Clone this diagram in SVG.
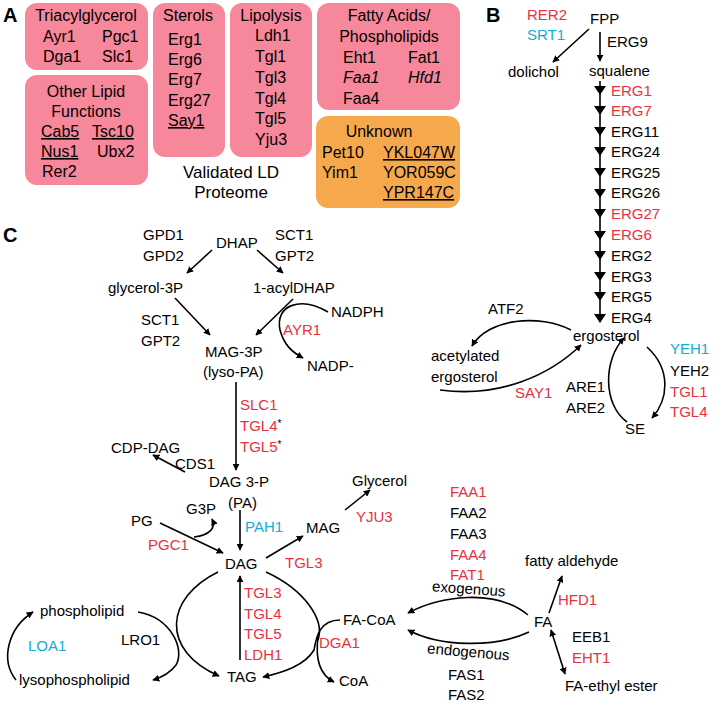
<svg xmlns="http://www.w3.org/2000/svg" width="715" height="703" viewBox="0 0 715 703">
<defs>
<marker id="ah" viewBox="0 0 10 10" refX="9" refY="5" markerWidth="7" markerHeight="7" orient="auto-start-reverse" markerUnits="userSpaceOnUse"><path d="M0,0 L10,5 L0,10 z" fill="#000"/></marker>
<style>
text{font-family:"Liberation Sans",Arial,sans-serif;font-size:15px;fill:#000}
#panelA text{font-size:16px}
.L{font-size:20px;font-weight:bold}
.r{fill:#E8313E}.c{fill:#14ACD6}
.m{text-anchor:middle}
.pk{fill:#F7879A}.or{fill:#F6A94C}
.ln{stroke:#000;stroke-width:1.6;fill:none}
.a{marker-end:url(#ah)}
</style>
</defs>
<text class="L" x="3" y="22">A</text>
<text class="L" x="486" y="22">B</text>
<text class="L" x="3" y="242">C</text>
<g id="panelA">
<g id="tag"><rect class="pk" x="25" y="3" width="123" height="67" rx="12"/>
<text class="m" x="86" y="21">Triacylglycerol</text><text x="43" y="42">Ayr1</text><text x="102" y="42">Pgc1</text><text x="43" y="62">Dga1</text><text x="102" y="62">Slc1</text></g>
<g id="other"><rect class="pk" x="25" y="75" width="123" height="110" rx="12"/>
<text class="m" x="86" y="97">Other Lipid</text><text class="m" x="86" y="117">Functions</text>
<text x="41" y="137" text-decoration="underline">Cab5</text><text x="92" y="137" text-decoration="underline">Tsc10</text>
<text x="41" y="157" text-decoration="underline">Nus1</text><text x="97" y="157">Ubx2</text><text x="42" y="177">Rer2</text></g>
<g id="sterols"><rect class="pk" x="153" y="3" width="72" height="154" rx="12"/>
<text class="m" x="188" y="21">Sterols</text><text x="168" y="45">Erg1</text><text x="168" y="65">Erg6</text><text x="168" y="85">Erg7</text><text x="168" y="106">Erg27</text><text x="168" y="126" text-decoration="underline">Say1</text></g>
<g id="lipolysis"><rect class="pk" x="230" y="3" width="82" height="154" rx="12"/>
<text class="m" x="271" y="21">Lipolysis</text><text x="255" y="41">Ldh1</text><text x="255" y="62">Tgl1</text><text x="255" y="83">Tgl3</text><text x="255" y="104">Tgl4</text><text x="255" y="124">Tgl5</text><text x="255" y="145">Yju3</text></g>
<g id="fa"><rect class="pk" x="317" y="3" width="143" height="107" rx="12"/>
<text class="m" x="389" y="21">Fatty Acids/</text><text class="m" x="389" y="42">Phospholipids</text>
<text x="343" y="63">Eht1</text><text x="408" y="63">Fat1</text><text x="343" y="83" font-style="italic">Faa1</text><text x="408" y="83" font-style="italic">Hfd1</text><text x="343" y="104">Faa4</text></g>
<g id="unknown"><rect class="or" x="316" y="116" width="144" height="92" rx="12"/>
<text class="m" x="379" y="137">Unknown</text><text x="322" y="158">Pet10</text><text x="383" y="158" text-decoration="underline">YKL047W</text>
<text x="322" y="178">Yim1</text><text x="383" y="178">YOR059C</text><text x="383" y="198" text-decoration="underline">YPR147C</text></g>
<text class="m" x="231" y="178" style="font-size:17px">Validated LD</text><text class="m" x="231" y="198" style="font-size:17px">Proteome</text>
</g>
<g id="panelB">
<text class="r" x="527" y="20">RER2</text><text class="c" x="527" y="40">SRT1</text>
<text x="590" y="24">FPP</text><text x="607" y="47">ERG9</text>
<text x="508" y="77">dolichol</text><text x="589" y="76">squalene</text>
<text x="611" y="96" class="r">ERG1</text><text x="611" y="116" class="r">ERG7</text><text x="611" y="137">ERG11</text><text x="611" y="157">ERG24</text><text x="611" y="178">ERG25</text><text x="611" y="198">ERG26</text><text x="611" y="219" class="r">ERG27</text><text x="611" y="240" class="r">ERG6</text><text x="611" y="261">ERG2</text><text x="611" y="282">ERG3</text><text x="611" y="302">ERG5</text><text x="611" y="323">ERG4</text>
<text x="573" y="341">ergosterol</text>
<text x="488" y="314">ATF2</text><text x="431" y="361">acetylated</text><text x="431" y="382">ergosterol</text>
<text class="r" x="515" y="398">SAY1</text>
<text x="566" y="392">ARE1</text><text x="566" y="413">ARE2</text><text x="625" y="434">SE</text>
<text class="c" x="670" y="354">YEH1</text><text x="670" y="376">YEH2</text><text class="r" x="670" y="397">TGL1</text><text class="r" x="670" y="417">TGL4</text>
</g>
<g id="panelC">
<text x="143" y="240">GPD1</text><text x="143" y="261">GPD2</text><text x="216" y="248">DHAP</text>
<text x="275" y="240">SCT1</text><text x="275" y="261">GPT2</text>
<text x="108" y="293">glycerol-3P</text><text x="253" y="293">1-acylDHAP</text>
<text x="141" y="325">SCT1</text><text x="141" y="346">GPT2</text>
<text x="331" y="317">NADPH</text><text class="r" x="283" y="335">AYR1</text><text x="307" y="371">NADP-</text>
<text x="205" y="357">MAG-3P</text><text x="203" y="377">(lyso-PA)</text>
<text class="r" x="240" y="410">SLC1</text><text class="r" x="240" y="431">TGL4<tspan style="fill:#000;font-size:10px" dy="-4">*</tspan></text><text class="r" x="240" y="452">TGL5<tspan style="fill:#000;font-size:10px" dy="-4">*</tspan></text>
<text x="111" y="453">CDP-DAG</text><text x="175" y="469">CDS1</text>
<text x="209" y="487">DAG 3-P</text><text x="228" y="508">(PA)</text>
<text x="352" y="486">Glycerol</text><text x="306" y="533">MAG</text><text class="r" x="356" y="522">YJU3</text>
<text class="c" x="245" y="532">PAH1</text>
<text x="131" y="526">PG</text><text x="186" y="514">G3P</text><text class="r" x="148" y="550">PGC1</text>
<text x="225" y="569">DAG</text><text class="r" x="285" y="568">TGL3</text>
<text class="r" x="244" y="598">TGL3</text><text class="r" x="244" y="619">TGL4</text><text class="r" x="244" y="639">TGL5</text><text class="r" x="244" y="660">LDH1</text>
<text x="227" y="682">TAG</text><text x="121" y="645">LRO1</text>
<text x="40" y="616">phospholipid</text><text x="19" y="685">lysophospholipid</text><text class="c" x="28" y="651">LOA1</text>
<text x="343" y="625">FA-CoA</text><text class="r" x="319" y="648">DGA1</text><text x="339" y="686">CoA</text>
<text class="r" x="450" y="497">FAA1</text><text x="450" y="518">FAA2</text><text x="450" y="539">FAA3</text><text class="r" x="450" y="560">FAA4</text><text class="r" x="450" y="580">FAT1</text>
<text x="432" y="594" transform="rotate(4 470 590)">exogenous</text><text x="427" y="657" transform="rotate(5 470 653)">endogenous</text>
<text x="448" y="680">FAS1</text><text x="448" y="700">FAS2</text>
<text x="534" y="627">FA</text><text x="525" y="566">fatty aldehyde</text><text class="r" x="558" y="605">HFD1</text>
<text x="572" y="642">EEB1</text><text class="r" x="572" y="663">EHT1</text><text x="565" y="691">FA-ethyl ester</text>
</g>
<g id="connectors">
<path class="ln a" d="M589,29 L553,62"/>
<path class="ln a" d="M600,32 L600,61"/>
<path class="ln" d="M600,81 L600,322"/>
<g fill="#000"><path d="M594,86 h12 l-6,9z"/><path d="M594,106 h12 l-6,9z"/><path d="M594,127 h12 l-6,9z"/><path d="M594,147 h12 l-6,9z"/><path d="M594,168 h12 l-6,9z"/><path d="M594,189 h12 l-6,9z"/><path d="M594,209 h12 l-6,9z"/><path d="M594,231 h12 l-6,9z"/><path d="M594,251 h12 l-6,9z"/><path d="M594,272 h12 l-6,9z"/><path d="M594,292 h12 l-6,9z"/><path d="M594,314 h12 l-6,9z"/></g>
<path class="ln a" d="M571,330 C540,314 488,318 472,346"/>
<path class="ln a" d="M440,390 C500,398 550,375 581,345"/>
<path class="ln a" d="M627,422 C603,405 603,360 624,338"/>
<path class="ln a" d="M647,347 C672,370 668,400 652,418"/>
<path class="ln a" d="M212,250 L187,273"/>
<path class="ln a" d="M257,250 L283,273"/>
<path class="ln a" d="M175,298 L210,335"/>
<path class="ln a" d="M293,299 L256,335"/>
<path class="ln a" d="M328,312 C300,296 275,305 280,330 C284,345 292,352 303,358"/>
<path class="ln a" d="M236,382 L236,470"/>
<path class="ln a" d="M185,472 L153,455"/>
<path class="ln a" d="M240,510 L240,550"/>
<path class="ln a" d="M345,510 L370,490"/>
<path class="ln a" d="M160,523 L223,553"/>
<path class="ln a" d="M194,537 C210,535 216,528 212,519"/>
<path class="ln a" d="M266,558 L303,536"/>
<path class="ln a" d="M240,660 L240,576"/>
<path class="ln a" d="M218,572 C165,598 160,650 219,676"/>
<path class="ln" d="M266,572 C305,590 325,620 318,640"/>
<path class="ln a" d="M340,620 C318,620 316,640 314,650 C305,665 285,672 263,677"/>
<path class="ln a" d="M318,637 C315,660 320,675 334,682"/>
<path class="ln a" d="M138,612 C172,618 185,650 176,665 C170,673 163,677 153,680"/>
<path class="ln a" d="M16,680 C0,660 8,628 33,612"/>
<path class="ln a" d="M528,615 C495,588 440,596 408,613"/>
<path class="ln a" d="M529,632 C495,648 440,647 408,630"/>
<path class="ln a" d="M549,613 L562,576"/>
<path class="ln a" style="marker-start:url(#ah)" d="M551,630 L565,674"/>
</g>
</svg>
